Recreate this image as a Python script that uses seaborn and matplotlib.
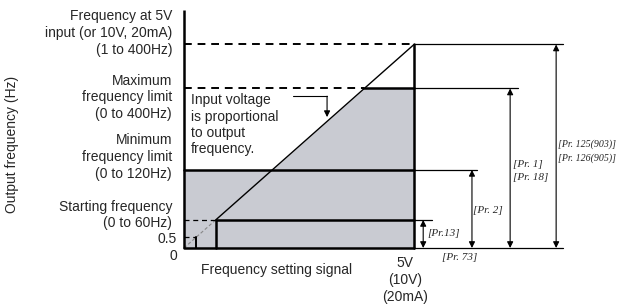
import numpy as np
import pandas as pd
import matplotlib
matplotlib.use("Agg")
import matplotlib.pyplot as plt
import seaborn as sns

# schematic levels (arbitrary units)
v_full = 5.0                 # 5V (10V, 20mA) input
f_levels = {"f5v": 18.5, "fmax": 14.5, "fmin": 7.1, "fstart": 2.55, "fbias": 1.0}
y_top = 21.6
ext_x = [5.39, 6.37, 7.26, 8.24]        # ends of the extension lines
arrow_x = [5.20, 6.26, 7.09, 8.09]      # Pr.13, Pr.2, Pr.1/18, Pr.125/126
arrow_lv = ["fstart", "fmin", "fmax", "f5v"]
pr_labels = ["[Pr.13]", "[Pr. 2]", "[Pr. 1]\n[Pr. 18]", "[Pr. 125(903)]\n[Pr. 126(905)]"]
pr_sizes = [8, 8, 8, 7.1]
left_labels = ["Frequency at 5V\ninput (or 10V, 20mA)\n(1 to 400Hz)",
               "Maximum\nfrequency limit\n(0 to 400Hz)",
               "Minimum\nfrequency limit\n(0 to 120Hz)",
               "Starting frequency\n(0 to 60Hz)"]
left_y = [19.55, 13.7, 8.27, 3.0]

sns.set_style("white")
plt.rcParams['font.family'] = ['Liberation Sans', 'DejaVu Sans']

fig = plt.figure(figsize=(6.21, 3.08), dpi=100)
ax = fig.add_axes([0, 0, 1, 1])
ax.set_xlim(-4.0, 9.5)
ax.set_ylim(-5.4545, 22.545)
ax.axis("off")

slope = f_levels["f5v"] / v_full
x_start = f_levels["fstart"] / slope
x_bias = f_levels["fbias"] / slope
x_max = f_levels["fmax"] / slope

# gray operating area
xs = np.linspace(0, v_full, 400)
ys = np.clip(slope * xs, f_levels["fmin"], f_levels["fmax"])
ax.fill_between(xs, 0, ys, color="#c9cbd2", lw=0)

# proportional line
diag = pd.DataFrame({"x": [x_start, v_full], "y": [f_levels["fstart"], f_levels["f5v"]]})
sns.lineplot(data=diag, x="x", y="y", ax=ax, color="black", lw=1.0)
ax.plot([0, x_start], [0, f_levels["fstart"]], color="#888888", lw=0.8, ls=(0, (3, 2)))

thick = 1.8
# axes frame
ax.plot([0, 0], [0, y_top], color="black", lw=thick, solid_capstyle="butt")
ax.plot([0, v_full], [0, 0], color="black", lw=thick)
ax.plot([v_full, ext_x[-1]], [0, 0], color="black", lw=0.9)
ax.plot([v_full, v_full], [0, f_levels["f5v"]], color="black", lw=thick)

# levels
ax.plot([0, v_full], [f_levels["f5v"]] * 2, color="black", lw=1.4, ls=(0, (4, 3)))
ax.plot([0, x_max], [f_levels["fmax"]] * 2, color="black", lw=1.4, ls=(0, (4, 3)))
ax.plot([x_max, v_full], [f_levels["fmax"]] * 2, color="black", lw=thick)
ax.plot([0, v_full], [f_levels["fmin"]] * 2, color="black", lw=thick)
ax.plot([0, x_start], [f_levels["fstart"]] * 2, color="black", lw=0.9, ls=(0, (4, 3)))
ax.plot([x_start, v_full], [f_levels["fstart"]] * 2, color="black", lw=thick)
ax.plot([x_start, x_start], [0, f_levels["fstart"]], color="black", lw=thick)
ax.plot([0, x_bias], [f_levels["fbias"]] * 2, color="black", lw=0.9, ls=(0, (4, 3)))
ax.plot([x_bias, x_bias], [0, f_levels["fbias"]], color="black", lw=1.4)

# extension lines + double arrows
for ex, axx, lv in zip(ext_x, arrow_x, arrow_lv):
    ax.plot([v_full, ex], [f_levels[lv]] * 2, color="black", lw=0.9)
    ax.annotate("", xy=(axx, f_levels[lv]), xytext=(axx, 0),
                arrowprops=dict(arrowstyle="<|-|>", color="black", lw=0.8,
                                mutation_scale=9, shrinkA=0, shrinkB=0))

pr_x = [5.30, 6.28, 7.15, 8.14]
pr_y = [1.36, 3.45, 7.0, 8.8]
for lab, px, py, fs in zip(pr_labels, pr_x, pr_y, pr_sizes):
    ax.text(px, py, lab, family="Liberation Serif", style="italic", fontsize=fs,
            ha="left", va="center", linespacing=1.5)
ax.text(5.6, -0.9, "[Pr. 73]", family="Liberation Serif", style="italic", fontsize=8,
        ha="left", va="center")

# left labels
for lab, ly in zip(left_labels, left_y):
    ax.text(-0.26, ly, lab, ha="right", va="center", fontsize=10, linespacing=1.25)
ax.text(-0.15, 0.82, "0.5", ha="right", va="center", fontsize=10)
ax.text(-0.15, -0.73, "0", ha="right", va="center", fontsize=10)
ax.text(-3.74, 9.4, "Output frequency (Hz)", rotation=90, ha="center", va="center", fontsize=10)

# bottom labels
ax.text(2.02, -2.0, "Frequency setting signal", ha="center", va="center", fontsize=10)
ax.text(4.8, -2.9, "5V\n(10V)\n(20mA)", ha="center", va="center", fontsize=10, linespacing=1.25)

# callout
ax.text(0.15, 11.2, "Input voltage\nis proportional\nto output\nfrequency.", ha="left",
        va="center", fontsize=10, linespacing=1.2)
ax.plot([2.37, 3.11], [13.8, 13.8], color="black", lw=0.8)
ax.annotate("", xy=(3.11, 11.9), xytext=(3.11, 13.8),
            arrowprops=dict(arrowstyle="-|>", color="black", lw=0.8,
                            mutation_scale=9, shrinkA=0, shrinkB=0))

fig.savefig("out.png", dpi=100)
